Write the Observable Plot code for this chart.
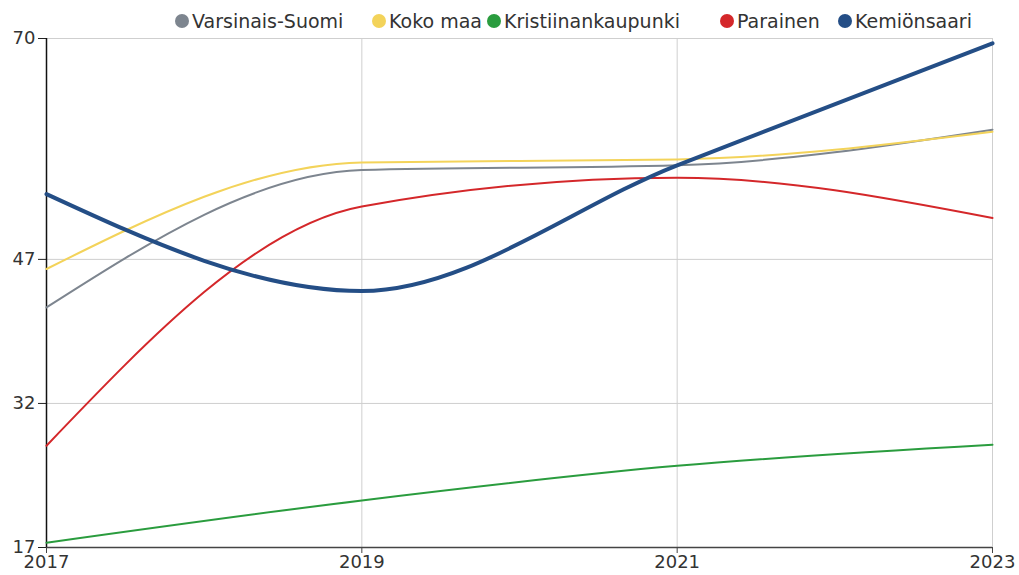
<!DOCTYPE html>
<html>
<head>
<meta charset="utf-8">
<script src="https://cdn.jsdelivr.net/npm/d3@7"></script>
<script src="https://cdn.jsdelivr.net/npm/@observablehq/plot@0.6"></script>
<style>
  html, body { margin: 0; padding: 0; background: #fff; }
  #wrap { position: relative; width: 1019px; height: 575px; font-family: "DejaVu Sans", sans-serif; }
  #legend { position: absolute; top: 0; left: 0; width: 1019px; height: 38px; }
  .item { position: absolute; top: 10px; display: flex; align-items: center; font-size: 19px; color: #333; white-space: nowrap; line-height: 22px; }
  .sw { width: 14px; height: 14px; border-radius: 50%; margin-right: 3px; }
  #chart { position: absolute; top: 0; left: 0; }
</style>
</head>
<body>
<div id="wrap">
  <div id="chart"></div>
  <div id="legend"></div>
</div>
<script>
const years = [2017, 2019, 2021, 2023];
const seriesNames = ["Varsinais-Suomi", "Koko maa", "Kristiinankaupunki", "Parainen", "Kemiönsaari"];
const seriesColors = ["#7d858f", "#f3d35a", "#2a9c3e", "#d4272a", "#244e86"];
const varsinaisSuomi = [42.0, 56.3, 56.8, 60.5];
const kokoMaa = [46.0, 57.1, 57.4, 60.3];
const kristiinankaupunki = [17.5, 21.9, 25.5, 27.7];
const parainen = [27.6, 52.5, 55.5, 51.3];
const kemionsaari = [53.8, 43.7, 56.8, 69.5];
const yTicks = [17, 32, 47, 70];
const legendLeft = [175, 372, 487, 720, 838];

const allValues = [varsinaisSuomi, kokoMaa, kristiinankaupunki, parainen, kemionsaari];
const data = [];
seriesNames.forEach((name, i) => {
  years.forEach((yr, j) => data.push({series: name, year: yr, value: allValues[i][j]}));
});

const lineMarks = seriesNames.map((name, i) =>
  Plot.line(data.filter(d => d.series === name), {
    x: "year", y: "value",
    stroke: seriesColors[i],
    strokeWidth: name === "Kemiönsaari" ? 4 : 2,
    curve: "monotone-x"
  })
);

const chart = Plot.plot({
  width: 1019,
  height: 575,
  marginTop: 38,
  marginRight: 27,
  marginBottom: 28,
  marginLeft: 46,
  style: { fontFamily: "DejaVu Sans, sans-serif", fontSize: "18px", color: "#333", background: "transparent" },
  x: { domain: [2017, 2023], ticks: years, tickFormat: "d" },
  y: { domain: [17, 70], ticks: yTicks },
  marks: [
    Plot.gridX(years, { stroke: "#cfcfcf", strokeOpacity: 1 }),
    Plot.gridY(yTicks, { stroke: "#cfcfcf", strokeOpacity: 1 }),
    Plot.axisX(years, { tickSize: 6, tickPadding: 2, fontSize: 18, label: null, tickFormat: "d", stroke: "#444" }),
    Plot.axisY(yTicks, { tickSize: 8, tickPadding: 3, fontSize: 18, label: null, stroke: "#222" }),
    Plot.ruleY([17], { stroke: "#444", strokeWidth: 1.5 }),
    Plot.ruleX([2017], { stroke: "#111", strokeWidth: 1.5 }),
    ...lineMarks
  ]
});
document.getElementById("chart").appendChild(chart);

const legend = document.getElementById("legend");
seriesNames.forEach((name, i) => {
  const it = document.createElement("div");
  it.className = "item";
  it.style.left = legendLeft[i] + "px";
  const sw = document.createElement("span");
  sw.className = "sw";
  sw.style.background = seriesColors[i];
  const tx = document.createElement("span");
  tx.textContent = name;
  it.appendChild(sw);
  it.appendChild(tx);
  legend.appendChild(it);
});
</script>
</body>
</html>
